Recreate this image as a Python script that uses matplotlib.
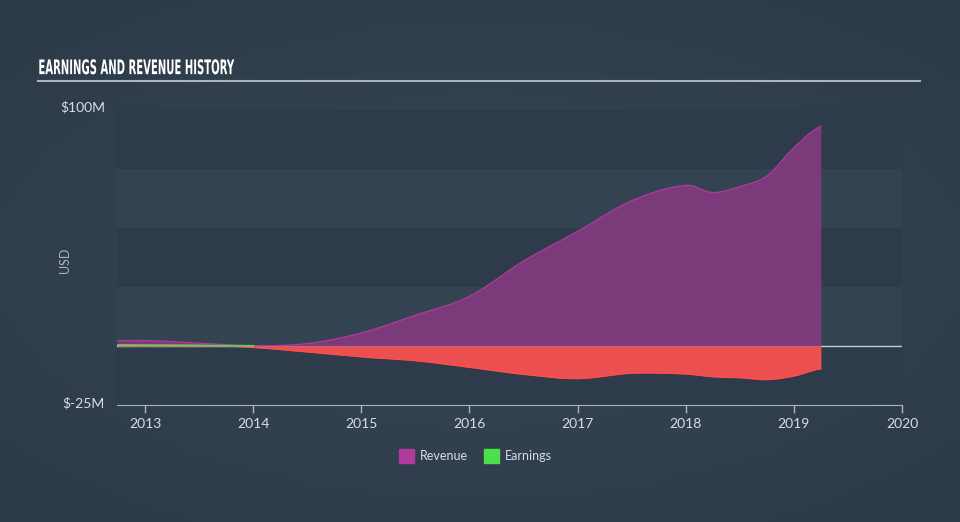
import matplotlib.pyplot as plt
import matplotlib.patheffects as pe
from matplotlib.transforms import Affine2D
import numpy as np

# revenue / earnings history, USD millions
rev_t = [2012.75, 2013.0, 2013.5, 2014.0, 2014.5, 2015.0, 2015.5, 2016.0, 2016.5,
         2017.0, 2017.5, 2018.0, 2018.25, 2018.5, 2018.75, 2019.0, 2019.25]
revenue = [2.2, 2.3, 1.2, 0.1, 1.0, 5.5, 13.0, 21.0, 36.0,
           48.5, 61.5, 68.0, 65.0, 67.5, 72.0, 84.0, 93.0]

earn_t = [2012.75, 2013.0, 2013.5, 2014.0, 2014.5, 2015.0, 2015.5, 2016.0, 2016.5,
          2017.0, 2017.5, 2018.0, 2018.25, 2018.5, 2018.75, 2019.0, 2019.25]
earnings = [0.6, 0.5, 0.3, -0.6, -2.5, -4.6, -6.2, -9.0, -12.0,
            -13.8, -11.5, -11.8, -13.0, -13.4, -14.2, -12.7, -9.6]

years = [2013, 2014, 2015, 2016, 2017, 2018, 2019, 2020]
ylabels = ['$100M', '$-25M']

plt.rcParams['font.family'] = ['Lato', 'DejaVu Sans']

def smooth(t, v):
    # catmull-rom through the points
    t = np.array(t); v = np.array(v)
    xs, ys = [], []
    for i in range(len(t) - 1):
        p0 = v[max(i - 1, 0)]; p1 = v[i]; p2 = v[i + 1]; p3 = v[min(i + 2, len(v) - 1)]
        s = np.linspace(0, 1, 30, endpoint=False)
        y = 0.5 * ((2 * p1) + (-p0 + p2) * s + (2 * p0 - 5 * p1 + 4 * p2 - p3) * s ** 2
                   + (-p0 + 3 * p1 - 3 * p2 + p3) * s ** 3)
        xs.append(t[i] + (t[i + 1] - t[i]) * s)
        ys.append(y)
    xs.append([t[-1]]); ys.append([v[-1]])
    return np.concatenate(xs), np.concatenate(ys)

class Squeeze(pe.AbstractPathEffect):
    # narrow the glyphs horizontally around x0 (display px), like a condensed face
    def __init__(self, sx, x0):
        super().__init__()
        self.sx, self.x0 = sx, x0
    def draw_path(self, renderer, gc, tpath, affine, rgbFace=None):
        a = affine + Affine2D().translate(-self.x0, 0).scale(self.sx, 1).translate(self.x0, 0)
        renderer.draw_path(gc, tpath, a, rgbFace)

fig = plt.figure(figsize=(9.6, 5.22), dpi=100)

# background radial gradient
bg = fig.add_axes([0, 0, 1, 1])
gx, gy = np.meshgrid(np.linspace(-1, 1, 200), np.linspace(-1, 1, 110))
r = np.clip(np.sqrt(gx ** 2 + (gy * 1.1) ** 2) / 1.4, 0, 1)[..., None]
c0 = np.array([0x37, 0x47, 0x57]) / 255
c1 = np.array([0x2d, 0x3a, 0x48]) / 255
bg.imshow(c0 * (1 - r) + c1 * r, aspect='auto', extent=[0, 1, 0, 1])
bg.axis('off')

fig.text(0.04, 0.858, 'EARNINGS AND REVENUE HISTORY', color='white', fontsize=14.5,
         fontweight='bold', family='DejaVu Sans',
         path_effects=[Squeeze(0.5, 0.04 * 960)])
fig.add_artist(plt.Line2D([0.04, 0.958], [0.845, 0.845], color='#aab4be', lw=1.5))

ax = fig.add_axes([117 / 960, 1 - 405 / 522, (902 - 117) / 960, (405 - 110) / 522])
ax.set_xlim(2012.74, 2020)
ax.set_ylim(-25, 100)
ax.patch.set_alpha(0)

band_cols = ['#2e3b4a', '#344352']
for i, lo in enumerate(range(-25, 100, 25)):
    ax.axhspan(lo, lo + 25, color=band_cols[i % 2], lw=0, zorder=0)

xr, yr = smooth(rev_t, revenue)
xe, ye = smooth(earn_t, earnings)
ax.axhline(0, color='#c8cdd2', lw=1, zorder=1)
ax.fill_between(xr, 0, yr, color='#7b3a7a', lw=0, zorder=2)
ax.plot(xr, yr, color='#b03a9c', lw=1, zorder=3)
ax.fill_between(xe, 0, ye, color='#ec4f50', lw=0, zorder=2)
ax.plot(xe, ye, color='#ff4d4d', lw=1, zorder=3)
ax.plot([2012.74, 2014.0], [0.3, 0.05], color='#5fd35f', lw=1.4, zorder=4, alpha=0.9)

for s in ['top', 'right', 'left']:
    ax.spines[s].set_visible(False)
ax.spines['bottom'].set_color('#aab4be')
ax.set_xticks(years)
ax.set_xticklabels([str(y) for y in years])
ax.tick_params(axis='x', colors='#aab4be', labelcolor='#d8dde2', labelsize=10, length=6, width=1)
ax.set_yticks([])

fig.text(105 / 960, 1 - 107 / 522, ylabels[0], color='#d8dde2', fontsize=10, ha='right', va='center')
fig.text(105 / 960, 1 - 403 / 522, ylabels[1], color='#d8dde2', fontsize=10, ha='right', va='center')
fig.text(65 / 960, 1 - 260 / 522, 'USD', color='#aab4be', fontsize=9, rotation=90, ha='center', va='center')

# legend
lx = 399 / 960; ly = 1 - 456 / 522
fig.patches.append(plt.Rectangle((lx, ly - 0.013), 15 / 960, 0.026, color='#b03a9c', transform=fig.transFigure))
fig.text(lx + 21 / 960, ly, 'Revenue', color='#d8dde2', fontsize=9, va='center')
lx2 = 484 / 960
fig.patches.append(plt.Rectangle((lx2, ly - 0.013), 15 / 960, 0.026, color='#4de04d', transform=fig.transFigure))
fig.text(lx2 + 21 / 960, ly, 'Earnings', color='#d8dde2', fontsize=9, va='center')

fig.savefig('out.png', dpi=100, facecolor=fig.get_facecolor())
